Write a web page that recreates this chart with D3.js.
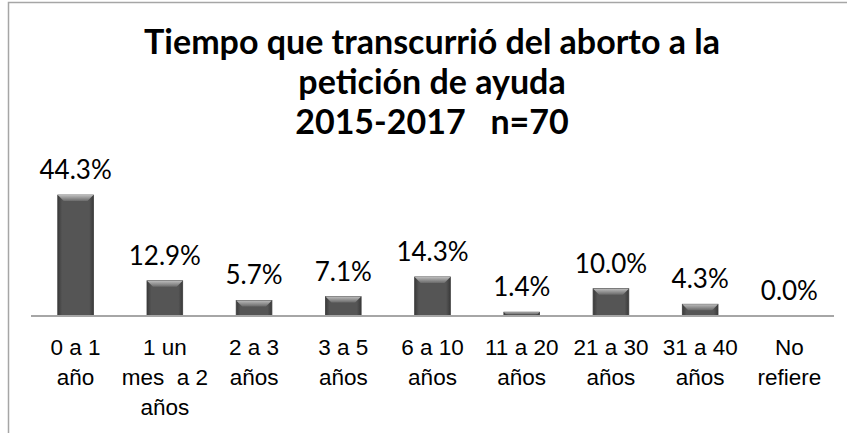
<!DOCTYPE html>
<html>
<head>
<meta charset="utf-8">
<script src="https://cdn.jsdelivr.net/npm/d3@7"></script>
<style>
  body { margin: 0; background: #fff; }
  svg { display: block; font-family: Lato, "Open Sans", sans-serif; }
</style>
</head>
<body>
<svg id="chart"></svg>
<script>
var width = 847;
var height = 433;

// data
var categories = ["0 a 1 año", "1 un mes a 2 años", "2 a 3 años", "3 a 5 años", "6 a 10 años",
                  "11 a 20 años", "21 a 30 años", "31 a 40 años", "No refiere"];
var tickLines = [["0 a 1", "año"], ["1 un", "mes  a 2", "años"], ["2 a 3", "años"], ["3 a 5", "años"],
                 ["6 a 10", "años"], ["11 a 20", "años"], ["21 a 30", "años"], ["31 a 40", "años"],
                 ["No", "refiere"]];
var values = [44.3, 12.9, 5.7, 7.1, 14.3, 1.4, 10.0, 4.3, 0.0];
var titleLines = ["Tiempo que transcurrió del aborto a la", "petición de ayuda", "2015-2017   n=70"];

var svg = d3.select("#chart").attr("width", width).attr("height", height);

// gradients for the bevelled bars
var defs = svg.append("defs");
var gTop = defs.append("linearGradient").attr("id", "bevTop").attr("x1", 0).attr("y1", 0).attr("x2", 0).attr("y2", 1);
gTop.append("stop").attr("offset", "0%").attr("stop-color", "#bcbcbc");
gTop.append("stop").attr("offset", "100%").attr("stop-color", "#6a6a6a");
var gBody = defs.append("linearGradient").attr("id", "bevBody").attr("x1", 0).attr("y1", 0).attr("x2", 1).attr("y2", 0);
gBody.append("stop").attr("offset", "0%").attr("stop-color", "#3a3a3a");
gBody.append("stop").attr("offset", "12%").attr("stop-color", "#555");
gBody.append("stop").attr("offset", "88%").attr("stop-color", "#555");
gBody.append("stop").attr("offset", "100%").attr("stop-color", "#3a3a3a");

// chart frame (only left and top edges are inside the picture)
svg.append("rect")
    .attr("x", 8.5).attr("y", 2.5)
    .attr("width", 950).attr("height", 500)
    .attr("fill", "none")
    .attr("stroke", "#a6a6a6")
    .attr("stroke-width", 1.5);

// title
svg.append("g").selectAll("text")
    .data(titleLines)
    .enter()
    .append("text")
      .attr("x", 432)
      .attr("y", function(d, i) { return 54 + i * 40; })
      .attr("text-anchor", "middle")
      .style("font-weight", "bold")
      .style("font-size", "34px")
      .style("fill", "#000")
      .style("white-space", "pre")
      .text(function(d) { return d; });

var x = d3.scaleBand()
    .domain(categories)
    .range([31, 834])
    .paddingInner(0.6)
    .paddingOuter(0.3);

var y = d3.scaleLinear()
    .domain([0, 50])
    .range([316, 179.5]);

var bars = svg.append("g").selectAll("g")
    .data(values)
    .enter()
    .append("g")
      .attr("transform", function(d, i) { return "translate(" + x(categories[i]) + ",0)"; });

var bw = x.bandwidth();

bars.filter(function(d) { return d > 0; })
    .append("rect")
      .attr("x", 0)
      .attr("y", function(d) { return y(d); })
      .attr("width", bw)
      .attr("height", function(d) { return y(0) - y(d); })
      .attr("fill", "url(#bevBody)")
      .attr("stroke", "#3c3c3c")
      .attr("stroke-width", 0.8);

// top bevel
bars.filter(function(d) { return d > 0; })
    .append("path")
      .attr("d", function(d) {
          var t = y(d), b = Math.min(6, (y(0) - y(d)) / 2);
          return "M0," + t + "L" + bw + "," + t + "L" + (bw - b) + "," + (t + b) + "L" + b + "," + (t + b) + "Z";
      })
      .attr("fill", "url(#bevTop)");

// value labels
bars.append("text")
    .attr("x", bw / 2)
    .attr("y", function(d) { return y(d) - 16; })
    .attr("text-anchor", "middle")
    .style("font-size", "26px")
    .style("fill", "#000")
    .text(function(d) { return d.toFixed(1) + "%"; });

// category axis
var axis = svg.append("g")
    .attr("transform", "translate(0," + y(0) + ")")
    .call(d3.axisBottom(x).tickSize(0).tickFormat(""));
axis.select(".domain").attr("stroke", "#a6a6a6").attr("stroke-width", 2).attr("d", "M31,0H834");

axis.selectAll(".tick").each(function(d, i) {
    var t = d3.select(this).append("text")
        .attr("text-anchor", "middle")
        .style("font-size", "22.5px")
        .style("fill", "#000")
        .style("white-space", "pre");
    tickLines[i].forEach(function(line, j) {
        t.append("tspan").attr("x", 0).attr("y", 39 + j * 30).text(line);
    });
});
</script>
</body>
</html>
